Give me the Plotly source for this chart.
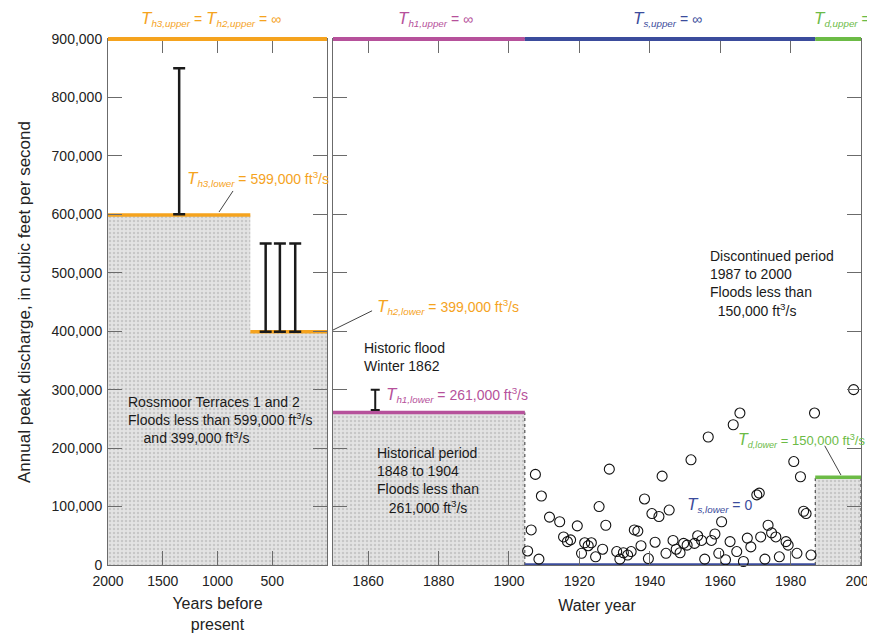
import plotly.graph_objects as go

# ---------------- data ----------------
# Paleoflood (years before present) non-exceedance bounds
paleo_bp = [1350, 560, 430, 290]
paleo_low = [600000, 399000, 399000, 399000]
paleo_high = [850000, 550000, 550000, 550000]

# Historic flood, winter 1862
hist_year = [1862]
hist_low = [265000]
hist_high = [300000]

# Systematic record (water year, annual peak ft3/s)
sys_years = [1905.3, 1906.3, 1907.5, 1908.5, 1909.2, 1911.5, 1914.4, 1915.5, 1916.6, 1917.5,
             1919.4, 1920.6, 1921.5, 1922.5, 1923.4, 1924.6, 1925.6, 1926.6, 1927.5, 1928.5,
             1930.6, 1931.5, 1932.5, 1933.7, 1934.7, 1935.6, 1936.6, 1937.5, 1938.5, 1939.6,
             1940.6, 1941.5, 1942.6, 1943.5, 1944.6, 1945.5, 1946.6, 1947.5, 1948.6, 1949.6,
             1950.6, 1951.7, 1952.7, 1953.6, 1954.7, 1955.6, 1956.6, 1957.5, 1958.5, 1959.6,
             1960.4, 1961.5, 1962.8, 1963.7, 1964.7, 1965.6, 1966.6, 1967.7, 1968.7, 1970.4,
             1971.1, 1971.5, 1972.7, 1973.6, 1974.6, 1975.8, 1976.8, 1978.7, 1979.3, 1980.9,
             1981.8, 1982.8, 1983.7, 1984.4, 1985.8, 1986.8]
sys_peaks_k = [24, 60, 155, 10, 118, 82, 74, 48, 40, 43,
               67, 20, 38, 33, 38, 14, 100, 27, 68, 164,
               23, 10, 21, 17, 23, 60, 58, 33, 113, 11,
               88, 39, 83, 152, 20, 94, 42, 27, 21, 37,
               34, 180, 37, 50, 42, 10, 219, 42, 53, 20,
               74, 9, 40, 240, 23, 260, 6, 46, 31, 120,
               123, 48, 10, 68, 55, 48, 14, 40, 34, 177,
               20, 151, 92, 88, 17, 260]
disc_years = [1997.9]
disc_peaks_k = [300]

# Perception thresholds
paleo_start = [2000, 700]
paleo_end = [700, 0]
paleo_lower = [599000, 399000]

per_names = ["h1", "s", "d"]
per_start = [1850, 1904.5, 1987]
per_end = [1904.5, 1987, 2000]
per_lower = [261000, 0, 150000]

ORANGE = "#F5A31E"
PURPLE = "#B6519B"
BLUE = "#3B4C9C"
GREEN = "#6CBB46"
per_colors = [PURPLE, BLUE, GREEN]

YMAX = 900000
FONT = "Liberation Sans Narrow, Liberation Sans"

pattern = dict(shape=".", bgcolor="#e3e3e3", fgcolor="#a9a9a9", size=4, solidity=0.3)

fig = go.Figure()

# ---- shaded regions ----
fig.add_trace(go.Scatter(
    x=[paleo_start[0], paleo_end[0], paleo_start[1], paleo_end[1]],
    y=[paleo_lower[0], paleo_lower[0], paleo_lower[1], paleo_lower[1]],
    mode="lines", line=dict(width=0), fill="tozeroy", fillpattern=pattern,
    xaxis="x", yaxis="y", hoverinfo="skip", showlegend=False))

for i in [0, 2]:
    fig.add_trace(go.Scatter(
        x=[per_start[i], per_end[i]], y=[per_lower[i], per_lower[i]],
        mode="lines", line=dict(width=0), fill="tozeroy", fillpattern=pattern,
        xaxis="x2", yaxis="y2", hoverinfo="skip", showlegend=False))

# dotted borders of shaded periods
dot_x = []
dot_y = []
for xv, top in [(per_end[0], per_lower[0]), (per_start[2], per_lower[2]), (per_end[2], per_lower[2])]:
    dot_x += [xv, xv, None]
    dot_y += [0, top, None]
fig.add_trace(go.Scatter(x=dot_x, y=dot_y, mode="lines",
                         line=dict(color="#333333", width=1, dash="dot"),
                         xaxis="x2", yaxis="y2", hoverinfo="skip", showlegend=False))

# ---- lower threshold lines ----
for s, e, v in zip(paleo_start, paleo_end, paleo_lower):
    fig.add_trace(go.Scatter(x=[s, e], y=[v, v], mode="lines",
                             line=dict(color=ORANGE, width=3.5),
                             xaxis="x", yaxis="y", showlegend=False, hoverinfo="skip"))
for s, e, v, c in zip(per_start, per_end, per_lower, per_colors):
    fig.add_trace(go.Scatter(x=[s, e], y=[v, v], mode="lines",
                             line=dict(color=c, width=3.5),
                             xaxis="x2", yaxis="y2", showlegend=False, hoverinfo="skip"))

# ---- upper thresholds (infinity) drawn on the top frame ----
shapes = []
shapes.append(dict(type="line", xref="x", yref="paper", x0=paleo_start[0], x1=paleo_end[1],
                   y0=1, y1=1, line=dict(color=ORANGE, width=4), layer="above"))
for s, e, c in zip(per_start, per_end, per_colors):
    shapes.append(dict(type="line", xref="x2", yref="paper", x0=s, x1=e, y0=1, y1=1,
                       line=dict(color=c, width=4), layer="above"))

# ---- paleoflood / historic ranges ----
fig.add_trace(go.Scatter(
    x=paleo_bp, y=paleo_low, mode="markers",
    marker=dict(color="rgba(0,0,0,0)", size=1),
    error_y=dict(type="data", symmetric=False,
                 array=[h - l for h, l in zip(paleo_high, paleo_low)],
                 arrayminus=[0] * len(paleo_low),
                 color="#1a1a1a", thickness=2.5, width=6),
    xaxis="x", yaxis="y", showlegend=False, hoverinfo="skip"))
fig.add_trace(go.Scatter(
    x=hist_year, y=hist_low, mode="markers",
    marker=dict(color="rgba(0,0,0,0)", size=1),
    error_y=dict(type="data", symmetric=False,
                 array=[h - l for h, l in zip(hist_high, hist_low)],
                 arrayminus=[0] * len(hist_low),
                 color="#1a1a1a", thickness=2, width=4.5),
    xaxis="x2", yaxis="y2", showlegend=False, hoverinfo="skip"))

# ---- annual peaks ----
fig.add_trace(go.Scatter(
    x=sys_years + disc_years, y=[v * 1000 for v in sys_peaks_k + disc_peaks_k],
    mode="markers",
    marker=dict(symbol="circle-open", size=10, color="#111111", line=dict(width=1.1)),
    xaxis="x2", yaxis="y2", showlegend=False, cliponaxis=False))

# ---- leader lines ----
LC = "#444444"
shapes += [
    dict(type="line", xref="x", yref="y", x0=858, y0=640000, x1=986, y1=604000,
         line=dict(color=LC, width=1)),
    dict(type="line", xref="x2", yref="y2", x0=1848.3, y0=397000, x1=1861.1, y1=435000,
         line=dict(color=LC, width=1)),
    dict(type="line", xref="x2", yref="y2", x0=1989.7, y0=204000, x1=1994.3, y1=154000,
         line=dict(color=LC, width=1)),
]


def T(sub, rest, big=17):
    return (f'<span style="font-size:{big}px"><i>T</i></span>'
            f'<sub><i>{sub}</i></sub>{rest}')


annotations = []


def add(text, x, y, xref, yref, color="#1a1a1a", xanchor="left", yanchor="middle",
        size=15, yshift=0, xshift=0):
    annotations.append(dict(text=text, x=x, y=y, xref=xref, yref=yref, showarrow=False,
                            xanchor=xanchor, yanchor=yanchor, align="left",
                            font=dict(color=color, size=size, family=FONT),
                            yshift=yshift, xshift=xshift))


# top labels
add(T("h3,upper", " = ") + T("h2,upper", " = ∞"), 1060, 1, "x", "paper",
    ORANGE, xanchor="center", yanchor="bottom", yshift=8, size=14)
add(T("h1,upper", " = ∞"), 1879, 1, "x2", "paper", PURPLE,
    xanchor="center", yanchor="bottom", yshift=8, size=14)
add(T("s,upper", " = ∞"), 1945, 1, "x2", "paper", BLUE,
    xanchor="center", yanchor="bottom", yshift=8, size=14)
add(T("d,upper", " = ∞"), 1987, 1, "x2", "paper", GREEN,
    xanchor="left", yanchor="bottom", yshift=8, xshift=-3, size=14)

# lower threshold labels
add(T("h3,lower", " = 599,000 ft<sup>3</sup>/s"), 1300, 660000, "x", "y", ORANGE, size=14)
add(T("h2,lower", " = 399,000 ft<sup>3</sup>/s"), 1862, 442000, "x2", "y2", ORANGE, size=14)
add(T("h1,lower", " = 261,000 ft<sup>3</sup>/s"), 1864.6, 291000, "x2", "y2", PURPLE, size=14)
add(T("s,lower", " = 0"), 1950, 103000, "x2", "y2", BLUE, size=14)
add(T("d,lower", " = 150,000 ft<sup>3</sup>/s", big=16), 1964.6, 213000, "x2", "y2", GREEN,
    size=13)

# descriptive text
add("Rossmoor Terraces 1 and 2<br>Floods less than 599,000 ft<sup>3</sup>/s<br>"
    "    and 399,000 ft<sup>3</sup>/s", 1839, 248000, "x", "y", size=14)
add("Historic flood<br>Winter 1862", 1858.3, 356000, "x2", "y2", size=14)
add("Historical period<br>1848 to 1904<br>Floods less than<br>   261,000 ft<sup>3</sup>/s",
    1862, 144000, "x2", "y2", size=14)
add("Discontinued period<br>1987 to 2000<br>Floods less than<br>  150,000 ft<sup>3</sup>/s",
    1956.6, 482000, "x2", "y2", size=14)

axis_common = dict(showline=True, linecolor="#6b6b6b", linewidth=1, mirror="allticks",
                   ticks="inside", ticklen=14, tickcolor="#6b6b6b", tickwidth=1,
                   showgrid=False, zeroline=False, automargin=False,
                   ticklabeloverflow="allow",
                   tickfont=dict(size=14, color="#222222", family=FONT))

fig.update_layout(
    width=867, height=626,
    margin=dict(l=100, r=14, t=31, b=69, autoexpand=False),
    paper_bgcolor="white", plot_bgcolor="white",
    font=dict(family=FONT, color="#222222"),
    xaxis=dict(domain=[0, 0.2908], range=[2000, 0], tickvals=[2000, 1500, 1000, 500],
               anchor="y", ticklabelstandoff=3,
               title=dict(text="Years before<br>present", font=dict(size=16, family=FONT),
                          standoff=10),
               **axis_common),
    yaxis=dict(range=[0, YMAX], tickvals=list(range(0, YMAX + 1, 100000)), tickformat=",",
               anchor="x", ticklabelstandoff=2,
               title=dict(text="Annual peak discharge, in cubic feet per second",
                          font=dict(size=17, family=FONT), standoff=16),
               **axis_common),
    xaxis2=dict(domain=[0.2988, 1], range=[1850, 2000],
                tickvals=list(range(1860, 2001, 20)), anchor="y2", ticklabelstandoff=3,
                title=dict(text="Water year", font=dict(size=16, family=FONT), standoff=12),
                **axis_common),
    yaxis2=dict(range=[0, YMAX], tickvals=list(range(0, YMAX + 1, 100000)), anchor="x2",
                showticklabels=False, **axis_common),
    shapes=shapes,
    annotations=annotations,
)

fig.write_html("out.html")
